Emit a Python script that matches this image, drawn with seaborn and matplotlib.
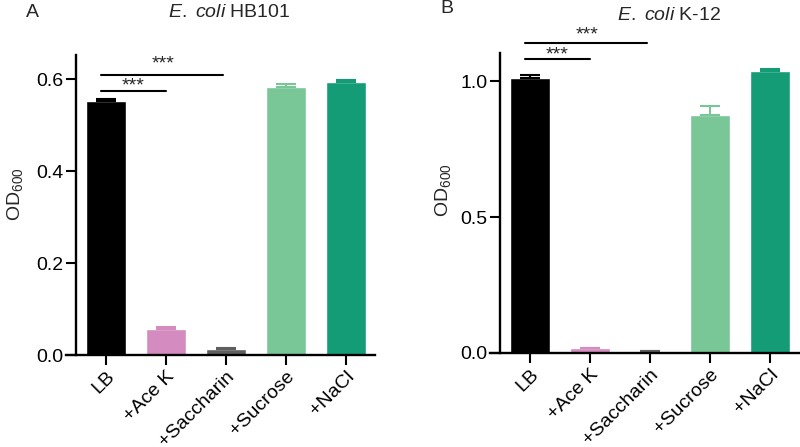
import pandas as pd
import matplotlib
matplotlib.use("Agg")
import matplotlib.pyplot as plt
import numpy as np
import seaborn as sns

# values
conditions = ["LB", "+Ace K", "+Saccharin", "+Sucrose", "+NaCl"]
hb101_means = [0.552, 0.057, 0.013, 0.583, 0.593]
hb101_err = [0.005, 0.003, 0.002, 0.007, 0.006]
k12_means = [1.012, 0.018, 0.006, 0.878, 1.038]
k12_err = [0.012, 0.002, 0.002, 0.030, 0.008]
bar_colors = ["#000000", "#d48bbf", "#5e5e5e", "#79c697", "#149c77"]

# significance brackets: (start bar, end bar, label)
brackets = [(0, 1, "***"), (0, 2, "***")]

sns.set_style("ticks")
plt.rcParams['font.family'] = ['Liberation Sans', 'DejaVu Sans']
plt.rcParams['mathtext.fontset'] = 'custom'
plt.rcParams['mathtext.rm'] = 'Liberation Sans'
plt.rcParams['mathtext.it'] = 'Liberation Sans:italic'

fig = plt.figure(figsize=(8, 4.47), dpi=100)
ax_a = fig.add_axes([0.0825, 0.2058, 0.386, 0.720])
ax_b = fig.add_axes([0.6125, 0.2103, 0.386, 0.729])


def draw_panel(ax, means, err, ymax, spine_top, yticks, line_y, star_y, label_x):
    df = pd.DataFrame({"cond": conditions, "od": means})
    sns.barplot(data=df, x="cond", y="od", hue="cond", palette=bar_colors,
                width=0.667, legend=False, ax=ax, saturation=1)
    xs = np.arange(len(conditions))
    for x, m, e, c in zip(xs, means, err, bar_colors):
        ax.errorbar(x, m, yerr=[[0], [e]], color=c, capsize=7.5,
                    elinewidth=1.5, capthick=1.5, zorder=1)
    ax.set_xlim(-0.667, 4.48)
    ax.set_ylim(0, ymax)
    ax.set_yticks(yticks)
    ax.set_yticklabels([f"{t:.1f}" for t in yticks])
    ax.spines['top'].set_visible(False)
    ax.spines['right'].set_visible(False)
    ax.spines['left'].set_position(('data', -0.5))
    ax.spines['left'].set_bounds(0, spine_top)
    for s in ['left', 'bottom']:
        ax.spines[s].set_linewidth(1.7)
        ax.spines[s].set_color('black')
    ax.tick_params(axis='both', width=1.5, length=7, labelsize=14,
                   color='black', labelcolor='black', pad=2)
    ax.set_xlabel("")
    ax.set_ylabel("OD$_{600}$", fontsize=14)
    ax.yaxis.set_label_coords(label_x, 0.5)
    plt.setp(ax.get_xticklabels(), rotation=45, ha='right', va='top',
             rotation_mode='anchor')
    for (i, j, txt), ly, sy in zip(brackets, line_y, star_y):
        ax.plot([i - 0.083, j - (0.05 if j == 2 else 0)], [ly, ly],
                color='black', lw=1.5, clip_on=False)
        ax.text((i - 0.083 + j) / 2, sy, txt, ha='center', va='center',
                fontsize=14)


draw_panel(ax_a, hb101_means, hb101_err, 0.70, 0.652, [0.0, 0.2, 0.4, 0.6],
           [0.574, 0.609], [0.585, 0.633], -0.133)
draw_panel(ax_b, k12_means, k12_err, 1.20, 1.103, [0.0, 0.5, 1.0],
           [1.081, 1.140], [1.097, 1.170], -0.12)

fig.text(0.287, 0.972, r"$\it{E.}$ $\it{coli}$ HB101", ha='center', va='center', fontsize=14)
fig.text(0.836, 0.965, r"$\it{E.}$ $\it{coli}$ K-12", ha='center', va='center', fontsize=14)
fig.text(0.041, 0.972, "A", ha='center', va='center', fontsize=14)
fig.text(0.559, 0.980, "B", ha='center', va='center', fontsize=14)

fig.savefig("out.png", dpi=100)
